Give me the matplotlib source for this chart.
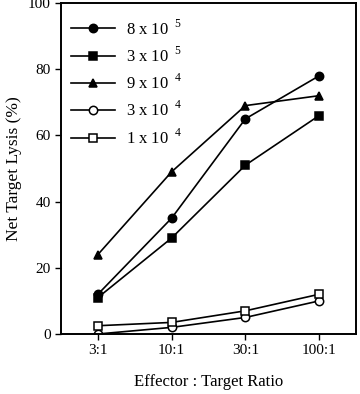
import matplotlib
matplotlib.use("Agg")
from matplotlib import pyplot as plt

plt.rcParams['font.family'] = ['Liberation Serif', 'DejaVu Serif']
plt.rcParams['mathtext.fontset'] = 'custom'
plt.rcParams['mathtext.rm'] = 'Liberation Serif'

# Data
ratios = ["3:1", "10:1", "30:1", "100:1"]
labels = ["8 x 10$^{\\;\\;5}$", "3 x 10$^{\\;\\;5}$", "9 x 10$^{\\;\\;4}$",
          "3 x 10$^{\\;\\;4}$", "1 x 10$^{\\;\\;4}$"]
lysis_8e5 = [12, 35, 65, 78]
lysis_3e5 = [11, 29, 51, 66]
lysis_9e4 = [24, 49, 69, 72]
lysis_3e4 = [0, 2, 5, 10]
lysis_1e4 = [2.5, 3.5, 7, 12]

series = [lysis_8e5, lysis_3e5, lysis_9e4, lysis_3e4, lysis_1e4]
markers = ['o', 's', '^', 'o', 's']
faces = ['black', 'black', 'black', 'white', 'white']

fig = plt.figure(figsize=(3.6, 3.94), dpi=100)
ax = fig.add_axes([61 / 360, 60 / 394, 295 / 360, 331 / 394])

x = range(len(ratios))
for values, m, fc, lab in zip(series, markers, faces, labels):
    ax.plot(x, values, color='black', lw=1.2, marker=m, markersize=6,
            markerfacecolor=fc, markeredgecolor='black', markeredgewidth=1.1,
            label=lab)

ax.set_xlim(-0.5, 3.5)
ax.set_ylim(0, 100)
ax.set_xticks(list(x))
ax.set_xticklabels(ratios)
ax.set_yticks([0, 20, 40, 60, 80, 100])
ax.tick_params(axis='both', direction='out', length=4, width=1, labelsize=11,
               colors='black')
for s in ax.spines.values():
    s.set_linewidth(1.4)

ax.set_xlabel("Effector : Target Ratio", fontsize=12, labelpad=12)
ax.set_ylabel("Net Target Lysis (%)", fontsize=12.5, labelpad=4)

ax.legend(loc='upper left', frameon=False, fontsize=12, handlelength=2.6,
          labelspacing=0.48, borderaxespad=0.0, handletextpad=0.7,
          bbox_to_anchor=(0.012, 0.972))

fig.savefig("out.png", dpi=100)
